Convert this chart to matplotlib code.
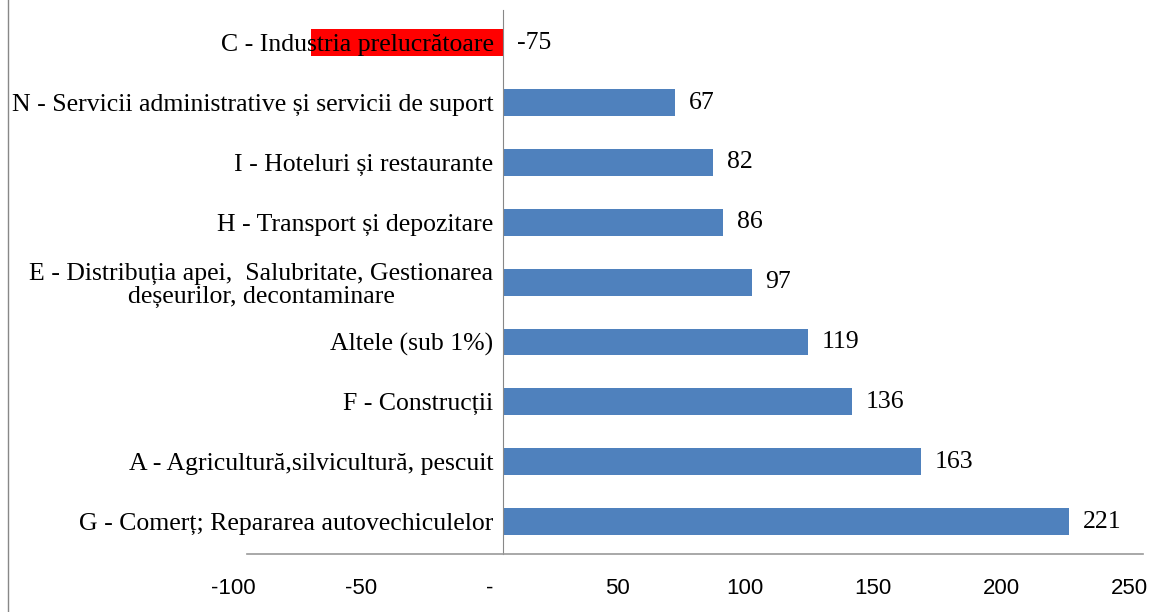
import matplotlib.pyplot as plt
from matplotlib.lines import Line2D
from matplotlib.transforms import ScaledTranslation

# date, de jos in sus
categorii = [
    "G - Comerț; Repararea autovechiculelor",
    "A - Agricultură,silvicultură, pescuit",
    "F - Construcții",
    "Altele (sub 1%)",
    "E - Distribuția apei,  Salubritate, Gestionarea\ndeșeurilor, decontaminare",
    "H - Transport și depozitare",
    "I - Hoteluri și restaurante",
    "N - Servicii administrative și servicii de suport",
    "C - Industria prelucrătoare",
]
valori = [221, 163, 136, 119, 97, 86, 82, 67, -75]
culori = ["#4F81BD"] * 8 + ["#FF0000"]

x_ticks = [-100, -50, 0, 50, 100, 150, 200, 250]
x_labels = ["-100", "-50", "-", "50", "100", "150", "200", "250"]

plt.rcParams["font.family"] = ["Liberation Serif", "DejaVu Serif"]

fig = plt.figure(figsize=(11.55, 6.12), dpi=100)
ax = fig.add_axes([0.214, 0.094, 0.776, 0.89])

y = list(range(len(categorii)))
ax.barh(y, valori, height=0.45, color=culori, zorder=1)

for yi, v in zip(y, valori):
    ax.annotate(str(v), xy=(max(v, 0), yi), xytext=(10, 0),
                textcoords="offset points", va="center", ha="left",
                fontsize=18.5, color="black")

ax.set_xlim(-100, 250)
ax.set_ylim(-0.55, len(categorii) - 0.45)

# spinele intai (set_position reseteaza tick-urile)
ax.spines["left"].set_position(("data", 0))
ax.spines["left"].set_color("#888888")
ax.spines["left"].set_linewidth(0.8)
ax.spines["bottom"].set_color("#999999")
ax.spines["bottom"].set_linewidth(1.2)
ax.spines["top"].set_visible(False)
ax.spines["right"].set_visible(False)

ax.tick_params(axis="y", length=0, pad=7, labelsize=18.5)
ax.tick_params(axis="x", length=0, pad=17, labelsize=16,
               labelfontfamily="Liberation Sans")

ax.set_yticks(y)
ax.set_yticklabels(categorii)
for lbl in ax.get_yticklabels():
    lbl.set_multialignment("center")
    lbl.set_linespacing(1.1)

ax.set_xticks(x_ticks)
ax.set_xticklabels(x_labels)
shift = ScaledTranslation(-14 / 100, 0, fig.dpi_scale_trans)
for lbl in ax.get_xticklabels():
    lbl.set_transform(lbl.get_transform() + shift)

# chenarul din stanga al diagramei
fig.add_artist(Line2D([0.007, 0.007], [0, 1], transform=fig.transFigure,
                      color="#888888", linewidth=1))

fig.savefig("out.png", dpi=100)
